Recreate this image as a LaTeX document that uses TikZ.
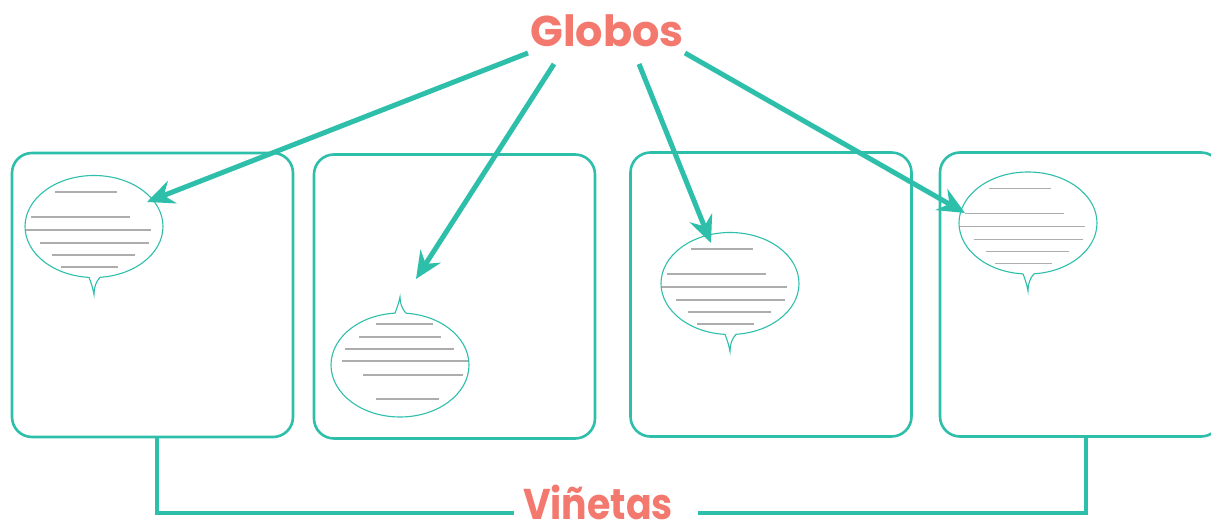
\documentclass[tikz,border=0pt]{standalone}
\usepackage{fontspec}
\setmainfont{Poppins}
\usetikzlibrary{arrows.meta,shapes.geometric}
\definecolor{teal1}{HTML}{2EBFAB}
\definecolor{salmon}{HTML}{F3786E}
\definecolor{txtgray}{HTML}{ADADAD}
\newcommand\balloonA[3]{%
  \node[bal] (#1) at (#2,#3) {};
  \begin{scope}[shift={(#1.center)}]
    \fill[white] (-5,44) -- (-5,50.8) .. controls (-3,56) and (-1,62) .. (0,68) .. controls (0,61) and (2,55) .. (6,50.8) -- (6,44) -- cycle;
    \draw[balline] (-5,50.8) .. controls (-3,56) and (-1,62) .. (0,68) .. controls (0,61) and (2,55) .. (6,50.8);
    \draw[gl] (-39,-34.5) -- (23,-34.5);
    \draw[gl] (-63,-9.5) -- (36,-9.5);
    \draw[gl] (-68,3.5) -- (57,3.5);
    \draw[gl] (-54,16.5) -- (55,16.5);
    \draw[gl] (-42,28.5) -- (41,28.5);
    \draw[gl] (-33,40.5) -- (24,40.5);
  \end{scope}}
\begin{document}
\begin{tikzpicture}[x=1pt,y=-1pt,
  panel/.style={draw=teal1,line width=2.6pt,rounded corners=20pt,minimum width=281pt,minimum height=284pt,inner sep=0pt},
  bal/.style={ellipse,draw=teal1,line width=1.1pt,fill=white,minimum width=138pt,minimum height=102pt,inner sep=0pt},
  balline/.style={draw=teal1,line width=1.1pt},
  gl/.style={draw=txtgray,line width=1.3pt},
  arr/.style={draw=teal1,line width=5pt,-{Stealth[length=27pt,width=24pt,inset=9pt]}},
  brk/.style={draw=teal1,line width=4.5pt},
  title/.style={text=salmon,font=\fontsize{43}{50}\selectfont\bfseries,inner sep=0pt,anchor=base}]
\useasboundingbox (0,0) rectangle (1211,526);
\clip (0,0) rectangle (1211,526);
\fill[white] (0,0) rectangle (1211,526);

% panels
\node[panel] (p1) at (152.5,295) {};
\node[panel] (p2) at (454.5,296.5) {};
\node[panel] (p3) at (771,294.5) {};
\node[panel] (p4) at (1080.5,294.5) {};

% balloons
\balloonA{b1}{94}{226.5}
\balloonA{b3}{730}{283.5}
\balloonA{b4}{1028}{223}

\node[bal,minimum height=104pt] (b2) at (400,365) {};
\begin{scope}[shift={(b2.center)}]
  \fill[white] (-5,-46) -- (-5,-51.8) .. controls (-3,-57) and (-1,-63) .. (0,-68) .. controls (0,-62) and (2,-56) .. (6,-51.8) -- (6,-46) -- cycle;
  \draw[balline] (-5,-51.8) .. controls (-3,-57) and (-1,-63) .. (0,-68) .. controls (0,-62) and (2,-56) .. (6,-51.8);
  \draw[gl] (-24,-41) -- (33,-41);
  \draw[gl] (-41,-28) -- (41,-28);
  \draw[gl] (-55,-16) -- (54,-16);
  \draw[gl] (-58,-4) -- (68,-4);
  \draw[gl] (-37,10) -- (63,10);
  \draw[gl] (-24,34) -- (39,34);
\end{scope}

% titles
\node[title] (globos) at (607,47) {Globos};
\node[title,transform shape,xscale=0.88] (vin) at (598,519) {Viñetas};

% arrows from the title to the balloons
\coordinate (s1) at (528,53);
\coordinate (s2) at (554,64);
\coordinate (s3) at (639,64);
\coordinate (s4) at (685,53);
\coordinate (t1) at (147,202);
\coordinate (t2) at (416,279);
\coordinate (t3) at (711,243);
\coordinate (t4) at (965,213);
\draw[arr] (s1) -- (t1);
\draw[arr] (s2) -- (t2);
\draw[arr] (s3) -- (t3);
\draw[arr] (s4) -- (t4);

% bracket
\coordinate (bl) at (514,513);
\coordinate (br) at (698,513);
\draw[brk] ([xshift=4.5pt]p1.south) |- (bl);
\draw[brk] (br) -| ([xshift=5.5pt]p4.south);
\end{tikzpicture}
\end{document}
